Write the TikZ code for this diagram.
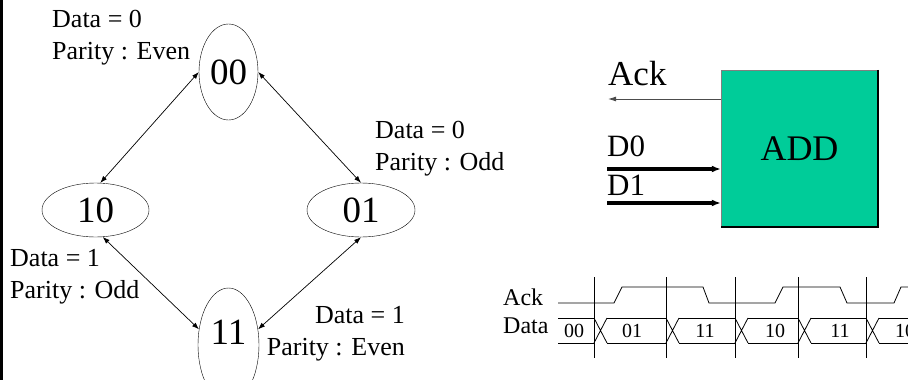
\documentclass[tikz,border=0pt]{standalone}
\usepackage{fontspec}
\setmainfont{Liberation Serif}
\usetikzlibrary{arrows.meta, shapes.geometric}
\definecolor{addgreen}{RGB}{0,204,153}
\tikzset{
    state/.style={
        draw,
        ellipse,
        inner sep=0pt,
        font=\fontsize{37}{40}\selectfont
    },
    note/.style={
        inner sep=0pt,
        align=left,
        font=\fontsize{26}{32}\selectfont
    },
    block/.style={
        draw=gray,
        fill=addgreen,
        minimum width=157pt,
        minimum height=157pt,
        inner sep=0pt,
        font=\fontsize{36}{40}\selectfont
    },
    pin/.style={inner sep=0pt, anchor=base west},
    line/.style={{Latex[length=7pt,width=5pt]}-{Latex[length=7pt,width=5pt]}, line width=0.7pt},
    thinline/.style={-{Latex[length=8pt,width=5pt]}, line width=0.9pt, black!70},
    busline/.style={-{Latex[length=9pt,width=7pt]}, line width=3.2pt},
    wave/.style={line width=0.8pt},
    tinylabel/.style={inner sep=0pt, font=\fontsize{20}{22}\selectfont}
}
\begin{document}
\begin{tikzpicture}[x=1pt, y=-1pt]
\useasboundingbox (0,0) rectangle (908,380);
\clip (0,0) rectangle (908,380);
\draw[line width=2.5pt] (1.25,0) -- (1.25,380);

% parity state machine
\node[state, minimum width=59pt, minimum height=96pt] (s00) at (228.5,72) {00};
\node[state, minimum width=107pt, minimum height=54pt] (s10) at (95.5,210) {10};
\node[state, minimum width=108pt, minimum height=54pt] (s01) at (361,210) {01};
\node[state, minimum width=61pt, minimum height=114pt, text depth=25pt] (s11) at (228.5,345) {11};

\draw[line] (s00.west) -- (s10.80);
\draw[line] (s00.east) -- (s01.north);
\draw[line] (s10.-75) -- (s11.152);
\draw[line] (s01.south) -- (s11.28);

\node[note, anchor=north west] (n00) at (52,10.5) {Data = 0\\Parity : Even};
\node[note, anchor=north west] (n01) at (375,121.5) {Data = 0\\Parity : Odd};
\node[note, anchor=north west] (n10) at (10,249.5) {Data = 1\\Parity : Odd};
\node[note, anchor=north east, align=right] (n11) at (405,306.5) {Data = 1\\Parity : Even};

% adder block
\node[block] (add) at (799.5,148.5) {ADD};
\draw[line width=1.6pt] (add.north east) -- (add.south east) -- (add.south west);
\coordinate (ackout) at (608,99);
\coordinate (d0in) at (607,169);
\coordinate (d1in) at (607,203);
\draw[thinline] (add.west |- ackout) -- (ackout);
\draw[busline] (d0in) -- (d0in -| add.west);
\draw[busline] (d1in) -- (d1in -| add.west);
\node[pin, font=\fontsize{35}{38}\selectfont] (ack) at (608,85) {Ack};
\node[pin, font=\fontsize{31}{34}\selectfont] (d0) at (607,156) {D0};
\node[pin, font=\fontsize{31}{34}\selectfont] (d1) at (607,195) {D1};

% timing diagram
\node[pin, font=\fontsize{24}{26}\selectfont] (tack) at (503,305) {Ack};
\node[pin, font=\fontsize{24}{26}\selectfont] (tdata) at (503,333) {Data};
\foreach \x in {594,666,735,798,866}
    \draw[wave] (\x,277) -- (\x,358);
\draw[wave] (558,303) -- (614,303) -- (622,287) -- (703,287) -- (709,303) -- (775,303)
    -- (783,287) -- (840,287) -- (847,303) -- (894,303) -- (901,287) -- (915,287);
\foreach \a/\b in {558/594, 607/666, 679/735, 748/798, 811/866, 879/920}
    \draw[wave] (\a,318) -- (\b,318) (\a,343) -- (\b,343);
\foreach \x in {594,666,735,798,866}
    \draw[wave] (\x,318) -- (\x+13,343) (\x,343) -- (\x+13,318);
\foreach \x/\v in {574/00, 632/01, 705/11, 775/10, 840/11, 905/10}
    \node[tinylabel] at (\x,330.5) {\v};
\end{tikzpicture}
\end{document}
